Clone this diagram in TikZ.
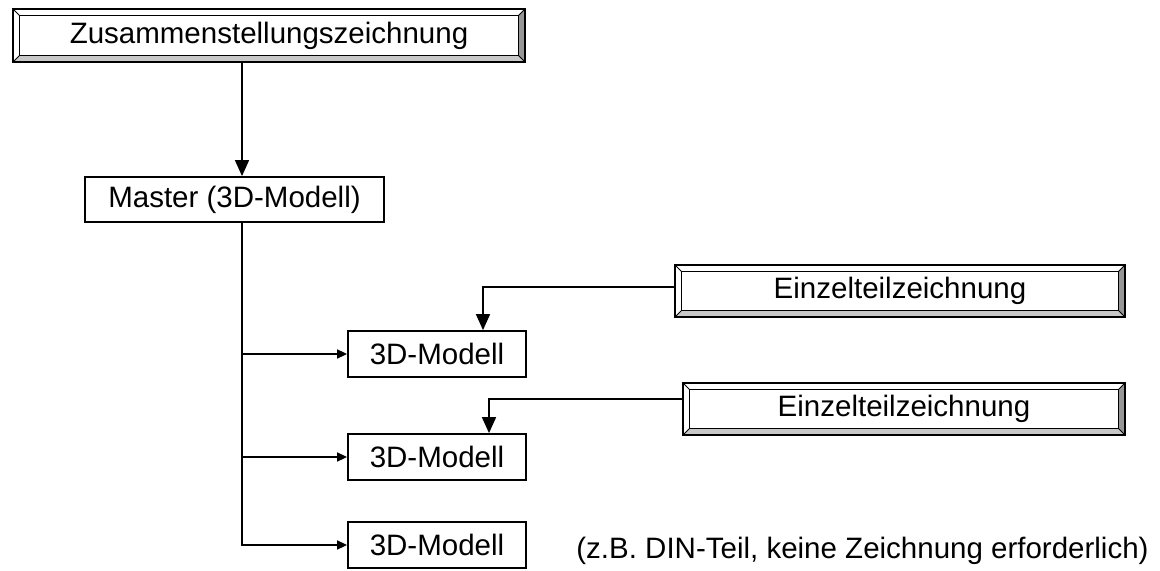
\documentclass[tikz,border=0pt]{standalone}
\usepackage{fontspec}
\setmainfont{Liberation Sans}
\usetikzlibrary{arrows.meta}

\newcommand{\diagfont}{\fontsize{14.75pt}{17pt}\selectfont}
\newcommand{\bevdepth}{3.2pt}
\definecolor{bevellow}{RGB}{200,200,200}
\definecolor{bevelside}{RGB}{150,150,150}

\tikzset{
    plainbox/.style={draw, rectangle, line width=0.9pt, inner sep=0pt, font=\diagfont},
    bevelbox/.style={draw, rectangle, line width=1pt, inner sep=0pt, font=\diagfont,
        path picture={
            \coordinate (bsw) at (path picture bounding box.south west);
            \coordinate (bne) at (path picture bounding box.north east);
            \coordinate (bse) at (bne |- bsw);
            \coordinate (bnw) at (bsw |- bne);
            % lower and right bevel
            \fill[bevellow] (bsw) -- (bse) -- ([shift={(-\bevdepth,\bevdepth)}]bse)
                -- ([shift={(\bevdepth,\bevdepth)}]bsw) -- cycle;
            \fill[bevelside] (bse) -- (bne) -- ([shift={(-\bevdepth,-\bevdepth)}]bne)
                -- ([shift={(-\bevdepth,\bevdepth)}]bse) -- cycle;
            % corner edges
            \draw[line width=0.4pt] (bsw) -- ++(\bevdepth,\bevdepth);
            \draw[line width=0.4pt] (bnw) -- ++(\bevdepth,-\bevdepth);
            \draw[line width=0.4pt] (bne) -- ++(-\bevdepth,-\bevdepth);
            \draw[line width=0.4pt] (bse) -- ++(-\bevdepth,\bevdepth);
            \draw[line width=0.8pt] ([shift={(\bevdepth,\bevdepth)}]bsw)
                rectangle ([shift={(-\bevdepth,-\bevdepth)}]bne);
        }},
    bigtip/.style={-{Triangle[length=8pt, width=7pt]}, line width=0.8pt},
    smalltip/.style={-{Triangle[length=5pt, width=4.5pt]}, line width=0.8pt}
}

\begin{document}
\begin{tikzpicture}[x=0.5pt, y=-0.5pt]
    \useasboundingbox (0,0) rectangle (1160,571);

    \node[bevelbox, minimum width=256pt, minimum height=26.5pt] (assembly) at (269,35.5) {Zusammenstellungszeichnung};
    \node[plainbox, minimum width=149.5pt, minimum height=22.5pt] (master) at (234.5,199.5) {Master (3D-Modell)};

    \node[plainbox, minimum width=89pt, minimum height=23pt] (model1) at (437,354) {3D-Modell};
    \node[plainbox, minimum width=89pt, minimum height=23pt] (model2) at (437,457) {3D-Modell};
    \node[plainbox, minimum width=89pt, minimum height=23pt] (model3) at (437,545) {3D-Modell};

    \node[bevelbox, minimum width=225pt, minimum height=26pt] (drawing1) at (900,291) {Einzelteilzeichnung};
    \node[bevelbox, minimum width=221pt, minimum height=26pt] (drawing2) at (904,409) {Einzelteilzeichnung};

    \node[font=\diagfont, inner sep=0pt] (note) at (862.5,551) {(z.B. DIN-Teil, keine Zeichnung erforderlich)};

    \coordinate (spine) at (242,0);

    \draw[bigtip] (assembly.south -| spine) -- (master.north -| spine);
    \foreach \m in {model1,model2,model3}
        \draw[smalltip] (master.south -| spine) |- (\m.west);

    \draw[bigtip] ([yshift=2pt]drawing1.west) -| ([xshift=23pt]model1.north);
    \draw[bigtip] ([yshift=5pt]drawing2.west) -| ([xshift=26pt]model2.north);
\end{tikzpicture}
\end{document}
